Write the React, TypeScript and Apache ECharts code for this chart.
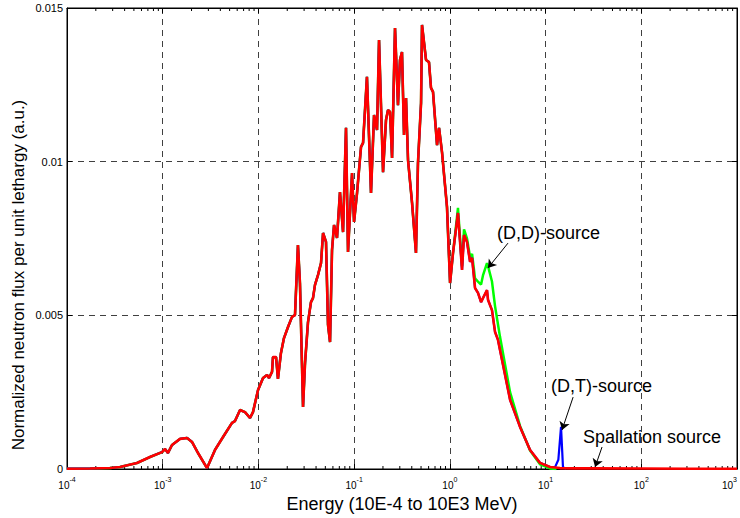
import React, { useEffect, useRef } from "react";
import * as echarts from "echarts";

// Energy grid (MeV) shared by the three spectra below ~11 MeV
const energy = [
  1.0e-4, 1.74e-4, 2.81e-4, 3.58e-4, 5.38e-4, 7.36e-4, 9.84e-4, 1.057e-3, 1.135e-3, 1.25e-3,
  1.517e-3, 1.795e-3, 2.023e-3, 2.339e-3, 2.904e-3, 3.516e-3, 4.266e-3, 5.297e-3, 5.689e-3, 6.427e-3,
  7.244e-3, 8.166e-3, 8.77e-3, 9.908e-3, 0.01117, 0.0123, 0.01291, 0.01387, 0.01419, 0.01528,
  0.016, 0.01718, 0.01849, 0.02037, 0.02244, 0.0241, 0.02588, 0.02716, 0.02924, 0.03069,
  0.03296, 0.0354, 0.03715, 0.03899, 0.04188, 0.04508, 0.04732, 0.05082, 0.05333, 0.05598,
  0.05875, 0.06166, 0.06622, 0.07112, 0.07656, 0.08222, 0.0863, 0.09506, 0.09977, 0.1072,
  0.118, 0.1239, 0.1361, 0.15, 0.1614, 0.1734, 0.182, 0.2004, 0.2153, 0.2259,
  0.2371, 0.2489, 0.2673, 0.2871, 0.3013, 0.3162, 0.3319, 0.3483, 0.3656, 0.4027,
  0.4426, 0.4645, 0.5, 0.5117, 0.5636, 0.6053, 0.6353, 0.6668, 0.7345, 0.7709,
  0.8279, 0.9333, 1.005, 1.079, 1.216, 1.34, 1.406, 1.51, 1.626, 1.706,
  1.832, 1.968, 2.118, 2.218, 2.443, 2.506, 2.754, 2.965, 3.184, 3.342,
  4.256, 5.408, 6.887, 8.75, 11.14,
];

// Spallation-source spectrum on the shared grid
const spallationFlux = [
  0.00001, 0.000016, 0.000033, 0.000065, 0.000195, 0.00039, 0.00055, 0.00065, 0.00052, 0.00078,
  0.00098, 0.00101, 0.00088, 0.00052, 0.00003, 0.00062, 0.00104, 0.0015, 0.00156, 0.00192,
  0.00185, 0.00166, 0.00185, 0.00257, 0.00296, 0.00306, 0.00296, 0.00316, 0.00364, 0.00364,
  0.00293, 0.00377, 0.00426, 0.00462, 0.00495, 0.00501, 0.00729, 0.00605, 0.00202, 0.00345,
  0.00478, 0.00543, 0.00556, 0.00599, 0.00631, 0.0067, 0.00768, 0.00739, 0.00469, 0.00413,
  0.00713, 0.00794, 0.00752, 0.00901, 0.00771, 0.0111, 0.00706, 0.00963, 0.00804, 0.00898,
  0.01048, 0.01061, 0.01276, 0.00898, 0.01152, 0.01103, 0.01396, 0.00966, 0.01136, 0.01168,
  0.01162, 0.01012, 0.01435, 0.01184, 0.01331, 0.01357, 0.01087, 0.01207, 0.01005, 0.00866,
  0.00703, 0.00996, 0.01191, 0.01445, 0.01331, 0.01324, 0.0124, 0.01227, 0.01054, 0.0111,
  0.01031, 0.00853, 0.00605, 0.00703, 0.00833, 0.00648, 0.00761, 0.00739, 0.00674, 0.00687,
  0.00589, 0.00573, 0.00543, 0.00556, 0.00582, 0.0055, 0.00517, 0.00446, 0.0042, 0.00387,
  0.00225, 0.00137, 0.00062, 0.0002, 0.000065,
];
const spallationTailEnergy = [14.16, 20, 31.6, 100, 316, 1000];
const spallationTailFlux = [0.00003, 0.00002, 0.00002, 0.000015, 0.00001, 0.00001];

// (D,T)-source: same as spallation below 11 MeV, plus 14 MeV peak
const dtFlux = spallationFlux;
const dtTailEnergy = [12.6, 13.6, 14.5, 15.2, 16.4];
const dtTailFlux = [0.00007, 0.0003, 0.00137, 0.00006, 0.00001];

// (D,D)-source: differs from index 94 on (bump near 2.5 MeV)
const ddSharedCount = 94;
const ddHighFlux = [
  0.0085, 0.0066, 0.0078, 0.0075, 0.0069, 0.007, 0.0062, 0.0061, 0.006, 0.0063,
  0.0067, 0.0066, 0.0061, 0.0053, 0.0047, 0.0043, 0.0025, 0.0014, 0.0006, 0.00015,
  0.00002,
];
const ddTailEnergy = [13.0];
const ddTailFlux = [0];

// Axis ticks
const decades = [1e-4, 1e-3, 1e-2, 1e-1, 1, 10, 100];
const minorMultipliers = [2, 3, 4, 5, 6, 7, 8, 9];
const yTicks = [0, 0.005, 0.01, 0.015];

const FONT = "'Liberation Sans', Arial, Helvetica, sans-serif";

function pairs(xs: number[], ys: number[]) {
  return xs.map((x, i) => [x, ys[i]]);
}

export default function App() {
  const ref = useRef<HTMLDivElement>(null);
  useEffect(() => {
    if (!ref.current) return;
    const chart = echarts.init(ref.current, undefined, { renderer: "svg" });

    const ddFlux = spallationFlux.slice(0, ddSharedCount).concat(ddHighFlux);
    const spallationData = pairs(energy, spallationFlux).concat(pairs(spallationTailEnergy, spallationTailFlux));
    const dtData = pairs(energy, dtFlux).concat(pairs(dtTailEnergy, dtTailFlux));
    const ddData = pairs(energy, ddFlux).concat(pairs(ddTailEnergy, ddTailFlux));
    const minorTicks: number[] = [];
    decades.forEach((d) => minorMultipliers.forEach((m) => minorTicks.push(m * d)));

    const dashed = { color: "#404040", width: 1, type: [6, 5] as number[] };

    const xBase = {
      type: "log" as const,
      logBase: 10,
      min: 1e-4,
      max: 1e3,
      splitNumber: 7,
      axisLine: { show: true, onZero: false, lineStyle: { color: "#000", width: 1 } },
      axisTick: { show: true, inside: true, length: 5, lineStyle: { color: "#000" } },
    };
    const yBase = {
      type: "value" as const,
      min: yTicks[0],
      max: yTicks[yTicks.length - 1],
      interval: yTicks[1] - yTicks[0],
      axisLine: { show: true, lineStyle: { color: "#000", width: 1 } },
      axisTick: { show: true, inside: true, length: 5, lineStyle: { color: "#000" } },
    };

    chart.setOption({
      animation: false,
      backgroundColor: "#fff",
      grid: {
        left: 67,
        right: 3,
        top: 8,
        bottom: 49,
        containLabel: false,
        outerBoundsMode: "none",
        show: true,
        borderColor: "#000",
        borderWidth: 1,
        backgroundColor: "transparent",
      },
      xAxis: [
        {
          ...xBase,
          position: "bottom",
          name: "Energy (10E-4 to 10E3 MeV)",
          nameLocation: "middle",
          nameGap: 26,
          nameTextStyle: { fontFamily: FONT, fontSize: 18, color: "#000" },
          splitLine: { show: true, lineStyle: dashed },
          axisLabel: {
            show: true,
            margin: 7,
            showMinLabel: true,
            showMaxLabel: true,
            alignMaxLabel: "right",
            hideOverlap: false,
            formatter: (v: number) => `{b|10}{s|${Math.round(Math.log10(v))}}`,
            rich: {
              b: { fontSize: 10, fontFamily: FONT, color: "#000", verticalAlign: "bottom", padding: [4, 0, 0, 0] },
              s: { fontSize: 7, fontFamily: FONT, color: "#000", verticalAlign: "top" },
            },
          },
        },
        {
          ...xBase,
          position: "top",
          splitLine: { show: false },
          axisLabel: { show: false },
        },
      ],
      yAxis: [
        {
          ...yBase,
          position: "left",
          splitLine: { show: true, lineStyle: dashed },
          axisLabel: { show: true, margin: 4, fontSize: 11, fontFamily: FONT, color: "#000" },
        },
        {
          ...yBase,
          position: "right",
          splitLine: { show: false },
          axisLabel: { show: false },
        },
      ],
      graphic: [
        {
          type: "text",
          x: 18,
          y: 275,
          rotation: Math.PI / 2,
          style: {
            text: "Normalized neutron flux per unit lethargy (a.u.)",
            fontFamily: FONT,
            fontSize: 17,
            fill: "#000",
            align: "center",
            verticalAlign: "middle",
          },
        },
        { type: "text", x: 497, y: 233, style: { text: "(D,D)-source", fontFamily: FONT, fontSize: 18, fill: "#000", align: "left", verticalAlign: "middle" } },
        { type: "text", x: 551, y: 386, style: { text: "(D,T)-source", fontFamily: FONT, fontSize: 18, fill: "#000", align: "left", verticalAlign: "middle" } },
        { type: "text", x: 583, y: 437, style: { text: "Spallation source", fontFamily: FONT, fontSize: 18, fill: "#000", align: "left", verticalAlign: "middle" } },
      ],
      series: [
        {
          type: "custom",
          xAxisIndex: 0,
          yAxisIndex: 0,
          silent: true,
          clip: false,
          data: minorTicks.map((v) => [v, 0]),
          encode: { x: 0, y: 1 },
          renderItem: (_p: any, api: any) => {
            const e = api.value(0);
            const b = api.coord([e, yTicks[0]]);
            const t = api.coord([e, yTicks[yTicks.length - 1]]);
            return {
              type: "group",
              children: [
                { type: "line", shape: { x1: b[0], y1: b[1], x2: b[0], y2: b[1] - 3 }, style: { stroke: "#000", lineWidth: 1 } },
                { type: "line", shape: { x1: t[0], y1: t[1], x2: t[0], y2: t[1] + 3 }, style: { stroke: "#000", lineWidth: 1 } },
              ],
            };
          },
        },
        {
          name: "(D,D)-source",
          type: "line",
          data: ddData,
          showSymbol: false,
          symbol: "none",
          lineStyle: { color: "#00ff00", width: 2.5 },
          z: 3,
        },
        {
          name: "(D,T)-source",
          type: "line",
          data: dtData,
          showSymbol: false,
          symbol: "none",
          lineStyle: { color: "#0000ff", width: 2.2 },
          z: 4,
        },
        {
          name: "Spallation source",
          type: "line",
          data: spallationData,
          showSymbol: false,
          symbol: "none",
          lineStyle: { color: "#ff0000", width: 2.6 },
          z: 5,
          markLine: {
            silent: true,
            symbol: ["none", "arrow"],
            symbolSize: 8,
            label: { show: false },
            lineStyle: { color: "#000", width: 1, type: "solid" },
            data: [
              [{ coord: [4.05, 0.00735] }, { coord: [2.5, 0.00654] }],
              [{ coord: [19.4, 0.00234] }, { coord: [14.86, 0.00127] }],
              [{ coord: [38.9, 0.000716] }, { coord: [32.9, 0.000065] }],
            ],
          },
        },
      ],
    });
    return () => chart.dispose();
  }, []);
  return <div ref={ref} style={{ position: "absolute", left: 0, top: 0, width: 740, height: 518, background: "#fff" }} />;
}
